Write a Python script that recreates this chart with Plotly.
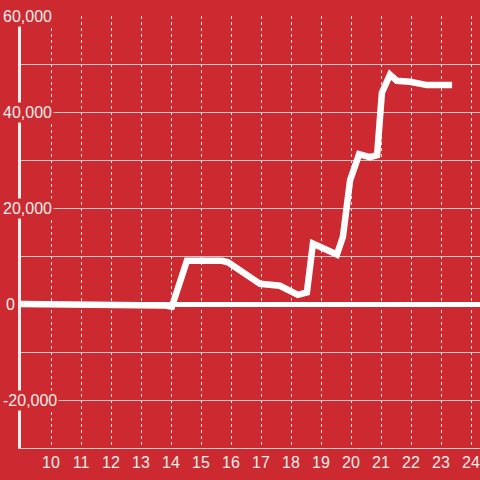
import plotly.graph_objects as go

# Series data
x_vals = [9, 13, 13.8, 14.03, 14.53, 15.7, 15.9, 16.97, 17.63, 18.23, 18.53,
          18.73, 19.53, 19.73, 19.97, 20.27, 20.63, 20.87, 21.03, 21.3, 21.53,
          21.97, 22.53, 23.37]
y_vals = [0, 0, -300, -550, 9000, 9000, 8700, 4200, 3800, 1900, 2400,
          12600, 10300, 14000, 25800, 31200, 30600, 31000, 44000, 47800, 46500,
          46300, 45600, 45600]

x_ticks = list(range(10, 25))
y_label_vals = [-20000, 0, 20000, 40000, 60000]
y_label_text = ["-20,000", "0", "20,000", "40,000", "60,000"]

BG = "#cc2a30"
TXT = "#eeeeee"
FONT = "Liberation Sans, Arial, sans-serif"
FS = 16

fig = go.Figure()
fig.add_trace(go.Scatter(
    x=x_vals, y=y_vals, mode="lines",
    line=dict(color="#ffffff", width=6.5),
    hoverinfo="skip", showlegend=False,
))

annotations = []
for v, t in zip(y_label_vals, y_label_text):
    if t == "0":
        annotations.append(dict(x=0, xref="paper", y=v, yref="y", text=t,
                                showarrow=False, xanchor="right", xshift=-4,
                                yanchor="middle", bgcolor=BG,
                                font=dict(family=FONT, size=FS, color=TXT)))
    else:
        annotations.append(dict(x=0, xref="paper", y=v, yref="y", text=t,
                                showarrow=False, xanchor="left", xshift=-20,
                                yanchor="middle", bgcolor=BG,
                                font=dict(family=FONT, size=FS, color=TXT)))

fig.update_layout(
    template="none",
    width=480, height=480,
    margin=dict(l=21, r=0, t=16, b=32, autoexpand=False),
    paper_bgcolor=BG, plot_bgcolor=BG,
    font=dict(family=FONT, size=FS, color=TXT),
    annotations=annotations,
    xaxis=dict(
        range=[9, 24.3], tickvals=x_ticks, ticktext=[str(t) for t in x_ticks],
        showgrid=True, gridcolor="#eeeeee", gridwidth=1, griddash="dot",
        showline=True, linecolor="#cccccc", linewidth=1,
        ticks="",
        zeroline=False, fixedrange=True, automargin=False,
        tickfont=dict(family=FONT, size=FS, color=TXT),
    ),
    yaxis=dict(
        range=[-30000, 60000], dtick=10000, tick0=0,
        showticklabels=False,
        showgrid=True, gridcolor="#c8c8c8", gridwidth=1,
        showline=True, linecolor="#eeeeee", linewidth=3,
        zeroline=True, zerolinecolor="#ffffff", zerolinewidth=5,
        fixedrange=True, automargin=False,
    ),
)

fig.write_html("out.html", config={"displayModeBar": False},
               post_script="document.body.style.margin='0';document.body.style.padding='0';")
